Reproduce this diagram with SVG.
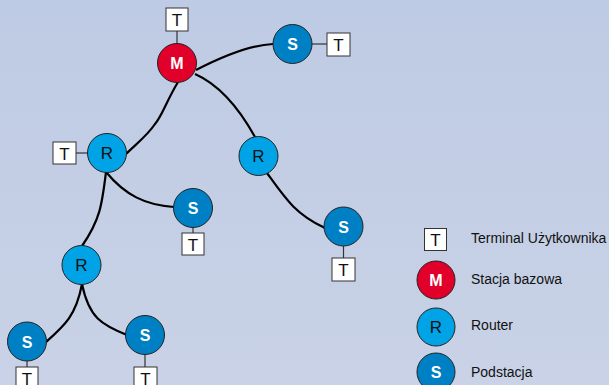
<svg xmlns="http://www.w3.org/2000/svg" width="609" height="385" viewBox="0 0 609 385">
<defs>
<linearGradient id="bg" x1="0" y1="0" x2="0" y2="1">
<stop offset="0" stop-color="#BECBE4"/>
<stop offset="1" stop-color="#C9D2E6"/>
</linearGradient>
</defs>
<style>
.t rect{fill:#fff;stroke:#333;stroke-width:1}
.t text,.lt{font-family:"Liberation Sans",Arial,sans-serif;font-size:17px;fill:#111;text-anchor:middle}
.tl{stroke:#333;stroke-width:1.2}
.m{fill:#E0002A;stroke:#222;stroke-width:1}
.r{fill:#00A3E6;stroke:#222;stroke-width:1}
.s{fill:#0080C4;stroke:#222;stroke-width:1}
.lw{font-family:"Liberation Sans",Arial,sans-serif;font-size:16px;font-weight:bold;fill:#fff;text-anchor:middle}
.lb{font-family:"Liberation Sans",Arial,sans-serif;font-size:17px;fill:#111;text-anchor:middle}
.leg{font-family:"Liberation Sans",Arial,sans-serif;font-size:14px;fill:#111}
#connectors path{fill:none;stroke:#000;stroke-width:2.2}
</style>
<rect width="609" height="385" fill="url(#bg)"/>
<g id="connectors">
<path d="M196,70 C225,55 250,45 273,44"/>
<path d="M195,74 C220,85 240,110 255,137"/>
<path d="M178,82 C166,102 162,116 155,124 C147,136 136,144 126,154"/>
<path d="M106,172 C102,205 100,220 82,246"/>
<path d="M106,172 C125,195 145,205 174,207"/>
<path d="M267,173 C285,198 295,214 325,228"/>
<path d="M82,284 C76,316 64,326 46,342"/>
<path d="M82,284 C89,318 102,325 127,335"/>
</g>
<g id="M1">
<line class="tl" x1="177" y1="31" x2="177" y2="44"/>
<g class="t"><rect x="166" y="8" width="22" height="23"/><text x="177" y="26">T</text></g>
<circle class="m" cx="177" cy="63" r="19.5"/>
<text class="lw" x="177" y="69">M</text>
</g>
<g id="S1">
<line class="tl" x1="312" y1="44" x2="327" y2="44"/>
<g class="t"><rect x="327" y="33" width="23" height="23"/><text x="338.5" y="51">T</text></g>
<circle class="s" cx="292.5" cy="44" r="19.5"/>
<text class="lw" x="292.5" y="50">S</text>
</g>
<g id="R1">
<line class="tl" x1="76" y1="153" x2="88" y2="153"/>
<g class="t"><rect x="53" y="142" width="23" height="22"/><text x="64.5" y="160">T</text></g>
<circle class="r" cx="107" cy="153" r="19.5"/>
<text class="lb" x="107" y="159">R</text>
</g>
<g id="R2">
<circle class="r" cx="258.5" cy="156" r="19.5"/>
<text class="lb" x="258.5" y="162">R</text>
</g>
<g id="S2">
<line class="tl" x1="193" y1="227" x2="193" y2="233"/>
<g class="t"><rect x="182" y="233" width="22" height="22"/><text x="193" y="251">T</text></g>
<circle class="s" cx="193" cy="208" r="19.5"/>
<text class="lw" x="193" y="214">S</text>
</g>
<g id="S3">
<line class="tl" x1="343.5" y1="246" x2="343.5" y2="258"/>
<g class="t"><rect x="332" y="258" width="23" height="23"/><text x="343.5" y="276">T</text></g>
<circle class="s" cx="343.5" cy="226.5" r="19.5"/>
<text class="lw" x="343.5" y="232.5">S</text>
</g>
<g id="R3">
<circle class="r" cx="81.5" cy="265" r="19.5"/>
<text class="lb" x="81.5" y="271">R</text>
</g>
<g id="S4">
<line class="tl" x1="27" y1="361" x2="27" y2="367"/>
<g class="t"><rect x="16" y="367" width="22" height="23"/><text x="27" y="385">T</text></g>
<circle class="s" cx="27" cy="341.5" r="19.5"/>
<text class="lw" x="27" y="347.5">S</text>
</g>
<g id="S5">
<line class="tl" x1="145" y1="354" x2="145" y2="367"/>
<g class="t"><rect x="134" y="367" width="23" height="23"/><text x="145.5" y="385">T</text></g>
<circle class="s" cx="145" cy="335" r="19.5"/>
<text class="lw" x="145" y="341">S</text>
</g>
<g id="legend">
<g class="t"><rect x="424.5" y="228.5" width="22" height="22"/><text x="435.5" y="246">T</text></g>
<text class="leg" x="471" y="243">Terminal Użytkownika</text>
<circle class="m" cx="436" cy="280" r="19"/>
<text class="lw" x="436" y="286">M</text>
<text class="leg" x="471" y="284">Stacja bazowa</text>
<circle class="r" cx="436" cy="327" r="19"/>
<text class="lb" x="436" y="333">R</text>
<text class="leg" x="471" y="330">Router</text>
<circle class="s" cx="436" cy="372" r="19"/>
<text class="lw" x="436" y="378">S</text>
<text class="leg" x="471" y="377">Podstacja</text>
</g>
</svg>
